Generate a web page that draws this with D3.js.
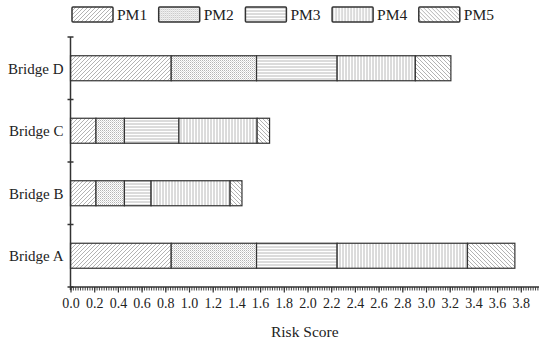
<!DOCTYPE html>
<html>
<head>
<meta charset="utf-8">
<script src="https://cdn.jsdelivr.net/npm/d3@7"></script>
<style>
  body { margin: 0; background: #fff; }
  svg text { font-family: "Liberation Serif", "DejaVu Serif", serif; }
</style>
</head>
<body>
<svg id="chart" width="539" height="347"></svg>
<script>
// chart data
const bridges = ["Bridge A", "Bridge B", "Bridge C", "Bridge D"];
const measures = ["PM1", "PM2", "PM3", "PM4", "PM5"];
const pm1 = [0.85, 0.215, 0.215, 0.85];
const pm2 = [0.72, 0.24, 0.24, 0.72];
const pm3 = [0.68, 0.225, 0.46, 0.68];
const pm4 = [1.10, 0.667, 0.66, 0.66];
const pm5 = [0.40, 0.10, 0.105, 0.30];
const xTicks = d3.range(0, 20).map(i => i * 0.2);

const W = 539, H = 347;
const plotLeft = 70.5, plotBottom = 287, plotTop = 37;
const serif = "'Liberation Serif', 'DejaVu Serif', serif";

const rows = bridges.map((b, i) => ({
  bridge: b, PM1: pm1[i], PM2: pm2[i], PM3: pm3[i], PM4: pm4[i], PM5: pm5[i]
}));
const stacked = d3.stack().keys(measures)(rows);

const svg = d3.select("#chart");

// hatch patterns
const defs = svg.append("defs");
const hatch = "#a0a0a0";
function pattern(id, w, h, draw) {
  const p = defs.append("pattern").attr("id", id)
    .attr("patternUnits", "userSpaceOnUse").attr("width", w).attr("height", h);
  p.append("rect").attr("width", w).attr("height", h).attr("fill", "#fff");
  draw(p);
}
pattern("PM1", 4, 4, p => p.append("path")
  .attr("d", "M-1,1 L1,-1 M0,4 L4,0 M3,5 L5,3")
  .attr("stroke", hatch).attr("stroke-width", 0.8));
pattern("PM2", 2, 2, p => {
  p.append("rect").attr("x", 0).attr("y", 0).attr("width", 1).attr("height", 1).attr("fill", "#b4b4b4");
  p.append("rect").attr("x", 1).attr("y", 1).attr("width", 1).attr("height", 1).attr("fill", "#d8d8d8");
});
pattern("PM3", 3, 3, p => p.append("line")
  .attr("x1", 0).attr("x2", 3).attr("y1", 1).attr("y2", 1)
  .attr("stroke", "#b0b0b0").attr("stroke-width", 0.9));
pattern("PM4", 3, 3, p => p.append("line")
  .attr("x1", 1).attr("x2", 1).attr("y1", 0).attr("y2", 3)
  .attr("stroke", "#b0b0b0").attr("stroke-width", 0.9));
pattern("PM5", 4, 4, p => p.append("path")
  .attr("d", "M-1,3 L1,5 M0,0 L4,4 M3,-1 L5,1")
  .attr("stroke", hatch).attr("stroke-width", 0.8));

const x = d3.scaleLinear().domain([0, 3.8]).range([plotLeft, plotLeft + 3.8 * 118.5]);
const y = d3.scaleBand().domain(bridges.slice().reverse())
  .range([plotTop, plotBottom]).paddingInner(0.6).paddingOuter(0.3);

// bars
svg.append("g").selectAll("g").data(stacked).join("g")
  .attr("fill", d => `url(#${d.key})`)
  .selectAll("rect").data(d => d).join("rect")
  .attr("x", d => x(d[0]))
  .attr("y", d => y(d.data.bridge))
  .attr("width", d => x(d[1]) - x(d[0]))
  .attr("height", y.bandwidth())
  .attr("stroke", "#333").attr("stroke-width", 1.2);

// x axis: minor then major ticks
const xEnd = W;
const minor = d3.range(0, 198).map(i => i * 0.02).filter(v => x(v) <= xEnd);
svg.append("g").attr("transform", `translate(0,${plotBottom})`)
  .call(d3.axisBottom(x).tickValues(minor).tickSize(3.5).tickFormat(""))
  .call(g => g.select(".domain").remove())
  .selectAll("line").attr("stroke", "#444").attr("stroke-width", 1);

const xAxis = svg.append("g").attr("transform", `translate(0,${plotBottom})`)
  .call(d3.axisBottom(x).tickValues(xTicks).tickSize(5.5).tickPadding(5.5)
    .tickFormat(d3.format(".1f")));
xAxis.attr("font-family", serif);
xAxis.select(".domain").remove();
xAxis.selectAll("line").attr("stroke", "#333").attr("stroke-width", 1.2);
xAxis.selectAll("text").attr("font-size", 14).attr("fill", "#222");
svg.append("line").attr("x1", plotLeft).attr("x2", xEnd)
  .attr("y1", plotBottom).attr("y2", plotBottom)
  .attr("stroke", "#333").attr("stroke-width", 1.5);

// y axis with ticks at band edges
svg.append("line").attr("x1", plotLeft).attr("x2", plotLeft)
  .attr("y1", plotTop).attr("y2", plotBottom + 3)
  .attr("stroke", "#333").attr("stroke-width", 1.5);
const edges = d3.range(0, bridges.length + 1)
  .map(i => y.range()[0] + i * y.step());
svg.append("g").selectAll("line").data(edges).join("line")
  .attr("x1", plotLeft - 3).attr("x2", plotLeft + 3)
  .attr("y1", d => d).attr("y2", d => d)
  .attr("stroke", "#333").attr("stroke-width", 1.5);
svg.append("g").selectAll("text").data(bridges).join("text")
  .attr("x", plotLeft - 7)
  .attr("y", d => y(d) + y.bandwidth() / 2)
  .attr("dy", "0.35em")
  .attr("text-anchor", "end")
  .attr("font-size", 15).attr("fill", "#222")
  .text(d => d);

// axis title
svg.append("text").attr("x", (plotLeft + W) / 2).attr("y", 337)
  .attr("text-anchor", "middle").attr("font-size", 15.5).attr("fill", "#222")
  .text("Risk Score");

// legend
const legend = svg.append("g").selectAll("g").data(measures).join("g")
  .attr("transform", (d, i) => `translate(${72 + i * 86.7},7)`);
legend.append("rect").attr("width", 41).attr("height", 15).attr("rx", 1)
  .attr("fill", d => `url(#${d})`)
  .attr("stroke", "#333").attr("stroke-width", 1.5);
legend.append("text").attr("x", 45).attr("y", 7.5).attr("dy", "0.35em")
  .attr("font-size", 15.5).attr("fill", "#222")
  .text(d => d);
</script>
</body>
</html>
